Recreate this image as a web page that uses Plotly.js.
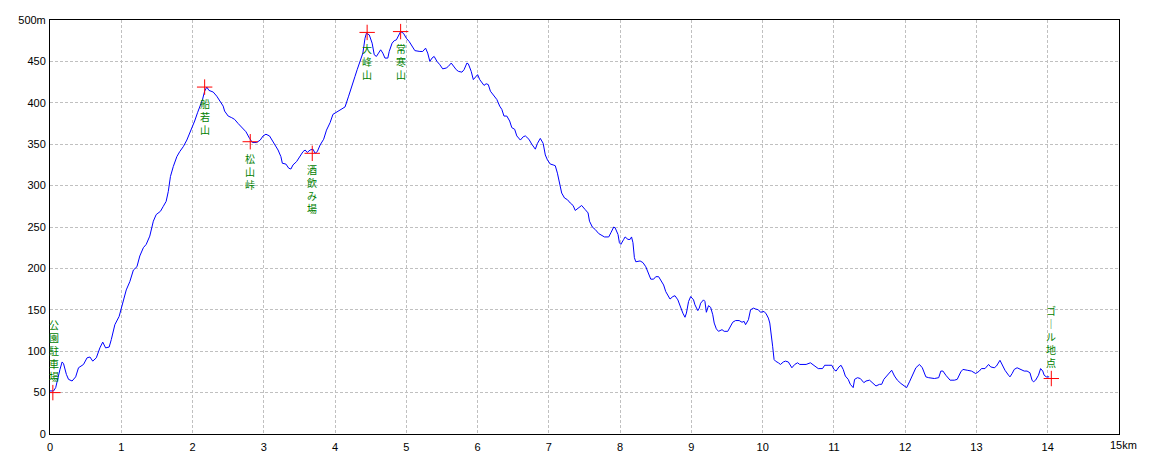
<!DOCTYPE html>
<html>
<head>
<meta charset="utf-8">
<script src="https://cdn.plot.ly/plotly-3.0.1.min.js"></script>
<style>html,body{margin:0;padding:0;background:#fff;}#chart{width:1160px;height:464px;}</style>
</head>
<body>
<div id="chart"></div>
<script>
// Distance along route (km) and elevation (m)
var distKm = [0.00,0.05,0.08,0.11,0.14,0.17,0.19,0.23,0.26,0.31,0.36,0.40,0.43,0.47,0.52,0.56,0.60,0.65,0.70,0.74,0.78,0.83,0.86,0.91,0.97,1.00,1.04,1.07,1.12,1.17,1.22,1.26,1.31,1.35,1.40,1.45,1.49,1.55,1.59,1.63,1.66,1.69,1.73,1.78,1.82,1.87,1.92,1.96,2.00,2.03,2.07,2.10,2.14,2.17,2.20,2.23,2.29,2.34,2.38,2.43,2.45,2.50,2.55,2.59,2.64,2.70,2.75,2.80,2.84,2.90,2.95,2.99,3.03,3.08,3.12,3.17,3.20,3.24,3.26,3.31,3.35,3.38,3.41,3.46,3.51,3.55,3.58,3.61,3.65,3.69,3.72,3.75,3.79,3.84,3.88,3.93,3.97,4.01,4.07,4.14,4.19,4.23,4.28,4.31,4.35,4.39,4.42,4.44,4.48,4.52,4.55,4.58,4.61,4.64,4.67,4.70,4.74,4.76,4.80,4.83,4.86,4.89,4.92,4.96,5.00,5.04,5.08,5.12,5.19,5.23,5.27,5.30,5.33,5.36,5.39,5.43,5.47,5.51,5.56,5.59,5.63,5.66,5.70,5.73,5.78,5.81,5.85,5.87,5.91,5.94,5.98,6.00,6.03,6.06,6.09,6.12,6.15,6.18,6.22,6.27,6.31,6.34,6.37,6.41,6.45,6.48,6.52,6.55,6.60,6.64,6.67,6.72,6.76,6.81,6.84,6.88,6.92,6.95,6.98,7.02,7.06,7.09,7.12,7.15,7.18,7.22,7.26,7.30,7.34,7.37,7.42,7.46,7.51,7.55,7.57,7.61,7.65,7.70,7.78,7.84,7.87,7.91,7.93,7.97,7.99,8.01,8.05,8.07,8.11,8.14,8.16,8.18,8.20,8.22,8.28,8.32,8.36,8.40,8.43,8.47,8.50,8.54,8.57,8.61,8.64,8.67,8.70,8.74,8.77,8.81,8.84,8.88,8.91,8.93,8.96,8.99,9.03,9.05,9.09,9.11,9.13,9.17,9.19,9.21,9.24,9.27,9.30,9.32,9.35,9.38,9.43,9.46,9.51,9.54,9.58,9.62,9.67,9.71,9.74,9.76,9.80,9.83,9.87,9.90,9.94,9.97,10.02,10.05,10.08,10.10,10.12,10.14,10.16,10.18,10.22,10.25,10.29,10.32,10.36,10.38,10.41,10.45,10.49,10.52,10.57,10.61,10.67,10.73,10.78,10.84,10.87,10.93,10.97,11.00,11.03,11.07,11.10,11.13,11.16,11.20,11.23,11.27,11.29,11.33,11.37,11.42,11.45,11.50,11.54,11.59,11.64,11.67,11.70,11.74,11.78,11.81,11.85,11.89,11.94,12.00,12.02,12.06,12.10,12.15,12.20,12.24,12.29,12.33,12.41,12.47,12.50,12.53,12.57,12.63,12.69,12.73,12.78,12.81,12.87,12.93,12.99,13.04,13.07,13.12,13.17,13.20,13.25,13.28,13.33,13.36,13.40,13.45,13.47,13.50,13.53,13.57,13.62,13.67,13.71,13.75,13.78,13.80,13.83,13.87,13.90,13.93,13.95,13.98,14.02];
var elevM = [52,52,56,68,78,87,85,72,66,64,69,80,82,84,92,93,88,92,104,111,104,105,114,132,142,151,162,174,184,198,202,215,225,229,239,257,265,269,275,281,293,311,323,335,341,347,355,363,370,378,388,394,404,414,419,415,413,408,402,396,390,384,382,380,375,370,365,357,352,352,355,360,362,360,354,347,343,335,327,326,321,320,325,329,336,341,343,340,343,344,339,341,349,356,367,376,386,388,391,395,408,420,432,440,450,460,478,484,482,472,458,456,460,464,460,454,454,462,472,475,476,482,486,484,478,474,468,463,462,462,466,460,450,454,456,450,446,441,442,444,448,444,440,438,437,440,448,447,438,428,433,434,428,424,421,423,422,414,410,404,396,392,384,384,378,370,368,360,355,359,360,356,350,344,351,357,351,337,331,326,325,324,315,301,291,285,283,279,276,270,274,276,271,267,257,250,247,242,238,238,243,250,249,241,231,229,235,238,235,235,238,231,213,208,209,207,202,192,187,187,190,190,186,180,172,167,163,166,167,162,154,146,141,146,160,166,162,156,149,152,158,162,160,147,155,153,144,134,127,124,126,124,124,128,135,137,137,135,136,132,138,150,152,151,150,147,148,145,140,134,122,106,90,88,86,84,87,88,87,84,80,84,86,84,84,84,86,82,79,79,83,83,83,78,76,81,83,78,70,66,60,56,66,68,67,62,64,65,62,58,60,60,66,70,73,77,70,65,61,57,56,63,71,80,84,80,69,68,67,68,76,76,71,65,65,66,75,78,77,76,73,76,79,79,84,81,80,82,89,84,77,71,69,73,78,80,78,76,76,74,65,63,65,71,79,76,71,69,69];

// Waypoints
var wpNames = ["公園駐車場","船若山","松山峠","酒飲み場","大峰山","常寒山","ゴール地点"];
var wpKm    = [0.04, 2.17, 2.81, 3.68, 4.45, 4.92, 14.05];
var wpElev  = [50, 419, 353, 339, 485, 486, 67];

// Axis ticks
var xTickVals = [0,1,2,3,4,5,6,7,8,9,10,11,12,13,14,15];
var xTickText = ["0","1","2","3","4","5","6","7","8","9","10","11","12","13","14",""];
var xEndLabel = "15km";
var yTickVals = [0,50,100,150,200,250,300,350,400,450,500];
var yTickText = ["0","50","100","150","200","250","300","350","400","450","500m"];

var tickFont = {family: '"Liberation Sans", Arial, sans-serif', size: 11, color: '#000'};

var traces = [
  {x: distKm, y: elevM, type: 'scatter', mode: 'lines',
   line: {color: '#0000ff', width: 1}, hoverinfo: 'skip'},
  {x: wpKm, y: wpElev, type: 'scatter', mode: 'markers',
   marker: {symbol: 'cross-thin', size: 11, line: {color: '#ff0000', width: 1}, color: '#ff0000'},
   hoverinfo: 'skip'}
];

var annotations = [];
wpNames.forEach(function(name, k){
  var chars = Array.from(name).map(function(c){ return c === 'ー' ? '｜' : c; });
  var above = (k === 0 || k === wpNames.length - 1);
  annotations.push({
    x: wpKm[k], y: wpElev[k], xref: 'x', yref: 'y',
    text: chars.join('<br>'), showarrow: false, xanchor: 'center',
    yanchor: above ? 'bottom' : 'top',
    yshift: above ? 9 : -9, xshift: (k === 0 ? 1.5 : 0),
    borderpad: 0, borderwidth: 0,
    font: {family: '"Noto Sans CJK JP", sans-serif', size: 10, color: '#008000'}
  });
});
annotations.push({
  x: 15, y: 0, xref: 'x', yref: 'y', text: xEndLabel, showarrow: false,
  xanchor: 'left', yanchor: 'middle', xshift: -9, yshift: -10.5,
  borderpad: 0, borderwidth: 0, font: tickFont
});

var axisCommon = {
  showline: true, linecolor: '#000', linewidth: 1, mirror: true,
  showgrid: true, gridcolor: '#c0c0c0', gridwidth: 1, griddash: '3px,2px',
  zeroline: false, ticks: '', tickmode: 'array',
  tickfont: tickFont, fixedrange: true
};

var layout = {
  width: 1160, height: 464,
  margin: {l: 50, r: 41, t: 20, b: 30, pad: 0},
  paper_bgcolor: '#fff', plot_bgcolor: '#fff',
  showlegend: false,
  xaxis: Object.assign({}, axisCommon, {range: [0, 15], tickvals: xTickVals, ticktext: xTickText, ticklabelstandoff: 3}),
  yaxis: Object.assign({}, axisCommon, {range: [0, 500], tickvals: yTickVals, ticktext: yTickText, ticklabelstandoff: 1}),
  annotations: annotations
};

Plotly.newPlot('chart', traces, layout, {displayModeBar: false, staticPlot: true});
</script>
</body>
</html>
